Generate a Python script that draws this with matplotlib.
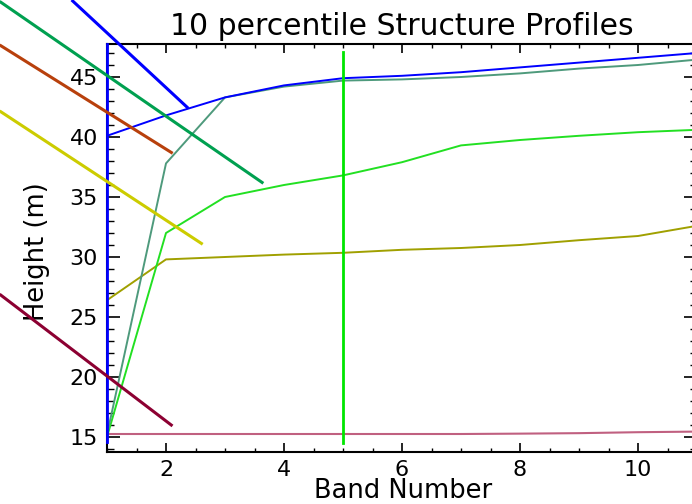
import numpy as np
import matplotlib
matplotlib.use("Agg")
import matplotlib.pyplot as plt
from matplotlib.ticker import MultipleLocator

# band numbers and the five profile curves
bands = [1, 2, 3, 4, 5, 6, 7, 8, 9, 10, 11]
blue_h = [40.1, 41.8, 43.3, 44.3, 44.9, 45.1, 45.4, 45.8, 46.2, 46.6, 47.0]
teal_h = [15.2, 37.8, 43.3, 44.2, 44.7, 44.8, 45.0, 45.3, 45.7, 46.0, 46.45]
green_h = [15.0, 32.0, 35.0, 36.0, 36.8, 37.9, 39.3, 39.75, 40.1, 40.4, 40.6]
olive_h = [26.4, 29.8, 30.0, 30.2, 30.35, 30.6, 30.75, 31.0, 31.4, 31.75, 32.6]
pink_h = [15.25, 15.25, 15.25, 15.25, 15.25, 15.25, 15.25, 15.28, 15.32, 15.4, 15.45]

# vertical markers
vline_x = [1, 5]
vline_lo = [14.6, 14.5]
vline_hi = [47.75, 47.1]
vline_col = ["#0000ff", "#00e600"]

# leader lines running off the left edge (start, end) in data units
lead_x0 = [0.40, -0.82, -0.82, -0.82, -0.82]
lead_y0 = [51.42, 51.3, 47.67, 42.17, 26.9]
lead_x1 = [2.378, 3.65, 2.113, 2.622, 2.11]
lead_y1 = [42.39, 36.14, 38.64, 31.06, 15.92]
lead_col = ["#0000ff", "#00a050", "#b8400c", "#cccc00", "#8c0032"]

fig = plt.figure(figsize=(6.92, 5.04), dpi=100)
ax = fig.add_axes([107 / 692, 52 / 504, 590 / 692, 408 / 504])

ax.plot(bands, pink_h, color="#c06080", lw=1.5)
ax.plot(bands, olive_h, color="#a0a000", lw=1.4)
ax.plot(bands, green_h, color="#22e022", lw=1.4)
ax.plot(bands, teal_h, color="#4e9a7c", lw=1.4)
ax.plot(bands, blue_h, color="#0000ff", lw=1.4)

for x, lo, hi, c in zip(vline_x, vline_lo, vline_hi, vline_col):
    ax.plot([x, x], [lo, hi], color=c, lw=2.0, zorder=3, clip_on=False)

for x0, y0, x1, y1, c in zip(lead_x0, lead_y0, lead_x1, lead_y1, lead_col):
    ax.plot([x0, x1], [y0, y1], color=c, lw=2.2, clip_on=False,
            solid_capstyle="butt", zorder=4)

ax.set_xlim(1, 11)
ax.set_ylim(13.75, 47.75)
ax.xaxis.set_major_locator(MultipleLocator(2))
ax.xaxis.set_minor_locator(MultipleLocator(0.5))
ax.yaxis.set_major_locator(MultipleLocator(5))
ax.yaxis.set_minor_locator(MultipleLocator(1))
ax.tick_params(axis="both", which="both", direction="in", top=True, right=True,
               colors="black", labelsize=16)
ax.tick_params(axis="x", which="major", length=6.5, width=1.2, pad=5.5)
ax.tick_params(axis="x", which="minor", length=3, width=1.0)
ax.tick_params(axis="y", which="major", length=9.4, width=1.2, pad=6.5)
ax.tick_params(axis="y", which="minor", length=5, width=1.0)
for s in ax.spines.values():
    s.set_linewidth(1.5)

ax.set_title("10 percentile Structure Profiles", fontsize=21.5, pad=6.5)
ax.set_xlabel("Band Number", fontsize=18.5)
ax.set_ylabel("Height (m)", fontsize=18.5)
ax.xaxis.set_label_coords(0.502, -0.064)
ax.yaxis.set_label_coords(-0.097, 0.49)

fig.savefig("out.png", dpi=100, facecolor="white")
